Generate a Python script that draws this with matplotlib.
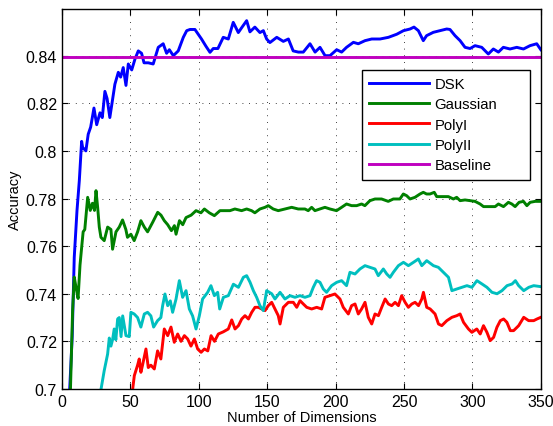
import matplotlib
matplotlib.use("Agg")
import matplotlib.pyplot as plt

plt.rcParams['font.family'] = ['Liberation Sans', 'DejaVu Sans']

# DSK
dsk_x = [5.5, 7.5, 9, 11, 12.7, 14.4, 15.1, 17.5, 19.2, 21, 23.4, 25.4, 27.8, 29.5, 31.4, 33, 35, 38.7, 41.2, 42.9,
         44.8, 46.8, 48.5, 51, 53.4, 55.8, 58.2, 60, 63.1, 66.7, 70.4, 74, 76.5, 78.5, 81.4, 85, 88.7, 91.2,
         93.6, 97.2, 99.6, 102, 105.2, 108.2, 110.6, 114, 117.9, 121.6, 125.2, 128.9, 131.3, 135, 137.4, 141,
         144.7, 147.2, 149.6, 152, 157, 161.8, 165.5, 169, 172.8, 176.4, 181.3, 185, 188.6, 192.3, 195.9,
         200.8, 204.4, 208, 213, 216.6, 221.5, 226.4, 232.5, 238.6, 244.7, 249.6, 254.4, 257.3, 260.5, 264.1,
         266.5, 271.4, 276.3, 281.2, 283.6, 287.3, 291, 294.6, 298.3, 301.9, 306.8, 311.6, 315.3, 319, 322.6,
         327.5, 332.4, 337.3, 342.1, 347, 350]
dsk_y = [0.698, 0.722, 0.7553, 0.7749, 0.7875, 0.804, 0.8015, 0.800, 0.807, 0.810, 0.818, 0.811, 0.816, 0.814, 0.825,
         0.822, 0.814, 0.828, 0.833, 0.831, 0.835, 0.8275, 0.8365, 0.834, 0.8386, 0.842, 0.841, 0.837, 0.837,
         0.8365, 0.8435, 0.845, 0.841, 0.8425, 0.840, 0.842, 0.8477, 0.8505, 0.851, 0.851, 0.849, 0.847,
         0.844, 0.8414, 0.843, 0.843, 0.8477, 0.847, 0.854, 0.8497, 0.8517, 0.8547, 0.850, 0.852, 0.8497,
         0.8505, 0.847, 0.8455, 0.8477, 0.846, 0.847, 0.842, 0.8415, 0.8415, 0.845, 0.8415, 0.8435, 0.840,
         0.840, 0.8425, 0.8415, 0.8435, 0.8456, 0.845, 0.8463, 0.847, 0.847, 0.8477, 0.849, 0.8505, 0.8512,
         0.852, 0.8505, 0.8463, 0.8484, 0.8498, 0.8505, 0.8512, 0.851, 0.8484, 0.8463, 0.8435, 0.843,
         0.8442, 0.8435, 0.8407, 0.8428, 0.8415, 0.8435, 0.8428, 0.8435, 0.8428, 0.8442, 0.845, 0.8425]

# Gaussian
gau_x = [6, 7.8, 9, 10.5, 11.8, 13.2, 14.5, 15.5, 16.7, 18.8, 20.7, 22.3, 23.8, 24.9, 26.1, 27.3, 28.5, 30.9,
         33.4, 35.8, 37, 39.5, 41.9, 44.3, 46.7, 47.9, 50.4, 52.8, 55.3, 57.7, 60.2, 62.6, 66.3, 70, 72.4,
         74.8, 77.3, 80, 82.2, 83.4, 85.9, 88.3, 90.7, 94.4, 98, 101.6, 104.1, 107.7, 111.4, 115.5, 119.1,
         122.8, 126.4, 131.3, 135, 138.6, 141, 144.7, 148.4, 150.8, 154.4, 158.1, 163, 167.9, 172.7, 177.6,
         180, 182.5, 184.9, 188.5, 192.2, 195.9, 200.7, 204.4, 208, 211.7, 215.4, 219, 221.4, 225.1, 228.8,
         233.6, 238.5, 242.2, 247, 249.5, 251.9, 254.4, 258, 261.7, 264.1, 266.5, 269, 272.1, 273.9, 277.5,
         282.4, 286.1, 288.5, 291, 294.6, 298.3, 301.9, 305.6, 308.1, 311.7, 316.6, 319, 322.7, 326.3, 328.8,
         331.2, 334.1, 337.3, 339.8, 342.2, 345.8, 349.5]
gau_y = [0.695, 0.733, 0.747, 0.742, 0.738, 0.752, 0.760, 0.766, 0.767, 0.7805, 0.775, 0.778, 0.775, 0.7833,
         0.7763, 0.768, 0.7637, 0.7623, 0.768, 0.767, 0.7587, 0.766, 0.768, 0.771, 0.767, 0.7637, 0.765,
         0.7623, 0.766, 0.7707, 0.768, 0.766, 0.770, 0.7742, 0.773, 0.7707, 0.769, 0.7665, 0.7686, 0.765,
         0.7707, 0.769, 0.772, 0.773, 0.7749, 0.774, 0.7756, 0.774, 0.7728, 0.7749, 0.7749, 0.7749, 0.7756,
         0.7749, 0.7756, 0.7749, 0.774, 0.7756, 0.7763, 0.777, 0.7756, 0.7749, 0.7756, 0.7763, 0.7756,
         0.7756, 0.7749, 0.7763, 0.7749, 0.7756, 0.7763, 0.7756, 0.7749, 0.7763, 0.7777, 0.777, 0.777,
         0.7777, 0.777, 0.7791, 0.7798, 0.7798, 0.7788, 0.7798, 0.7798, 0.7819, 0.7812, 0.7798, 0.7805,
         0.7819, 0.7826, 0.7819, 0.7819, 0.7826, 0.7808, 0.7808, 0.7808, 0.7798, 0.7805, 0.7791, 0.7794,
         0.7791, 0.7788, 0.7777, 0.7766, 0.7766, 0.7766, 0.7777, 0.7766, 0.7784, 0.7777, 0.7766, 0.7784,
         0.7788, 0.777, 0.7784, 0.7788, 0.7788]

# PolyI
p1_x = [51.5, 52.9, 55.3, 56.5, 57.7, 58.9, 61.4, 63.1, 65, 67.5, 69.9, 72.3, 74.8, 77.3, 79.7, 82.1, 84.6, 87,
        89.5, 91.9, 94.3, 96.8, 99.2, 101.7, 104.1, 106.6, 109, 111.5, 114.3, 117.9, 121.6, 124.1, 126.5,
        129, 131.4, 133.8, 136.3, 138.7, 141.1, 143.5, 146, 148.4, 150.8, 153.3, 155.7, 158.1, 159.4, 161.8,
        165.5, 169.1, 171.6, 174, 176.4, 178.9, 182.5, 186.2, 189.8, 192.2, 195.9, 199.5, 203.2, 205.6,
        209.3, 211.7, 214.2, 216.6, 219, 221.5, 223.9, 226.4, 228.8, 231.3, 233.7, 236.2, 238.6, 241, 243.5,
        245.9, 248.3, 250.8, 253.2, 255.7, 258.1, 260.6, 263, 264.2, 266.6, 269.1, 272.7, 275.2, 277.6,
        281.3, 285, 288.6, 291, 293.5, 297.1, 299.6, 303.2, 305.7, 308.1, 310.6, 313, 315.5, 317.9, 320.4,
        322.8, 325.2, 327.7, 330.1, 333.8, 337.5, 341.1, 344.8, 347.2, 350]
p1_y = [0.699, 0.7056, 0.710, 0.7126, 0.707, 0.710, 0.7168, 0.709, 0.710, 0.7084, 0.716, 0.7126, 0.7252,
        0.7224, 0.726, 0.7196, 0.7231, 0.720, 0.7224, 0.721, 0.718, 0.721, 0.7168, 0.7154, 0.7168, 0.716,
        0.7224, 0.720, 0.7231, 0.724, 0.7252, 0.729, 0.7252, 0.7266, 0.7294, 0.7308, 0.7294, 0.7322, 0.7343,
        0.7343, 0.7336, 0.7329, 0.735, 0.7364, 0.7336, 0.7308, 0.7273, 0.7343, 0.7364, 0.7364, 0.7343,
        0.7371, 0.7357, 0.7343, 0.7336, 0.7343, 0.7336, 0.7385, 0.7392, 0.7399, 0.7378, 0.7343, 0.7315,
        0.735, 0.7357, 0.7315, 0.7336, 0.7364, 0.7301, 0.7273, 0.7315, 0.7308, 0.7343, 0.7378, 0.7357,
        0.735, 0.7364, 0.735, 0.7392, 0.7364, 0.7343, 0.7357, 0.7364, 0.735, 0.7378, 0.7406, 0.7343, 0.7336,
        0.7315, 0.7273, 0.7266, 0.7287, 0.7301, 0.7308, 0.7315, 0.728, 0.7252, 0.7238, 0.7252, 0.7231,
        0.7266, 0.7238, 0.7203, 0.7217, 0.7259, 0.7287, 0.7294, 0.728, 0.7245, 0.7245, 0.7266, 0.7301,
        0.7287, 0.7287, 0.7294, 0.7301]

# PolyII
p2_x = [28.3, 30.9, 33.4, 34.6, 35.8, 37, 38.2, 39.4, 40.7, 41.9, 43.2, 44.4, 46.8, 49.2, 50.4, 52.8, 55.3,
        57.7, 60.2, 62.6, 65, 67, 69.9, 72.3, 73.6, 75.3, 77.3, 79.2, 80.9, 83.4, 85.8, 88.2, 90.7, 93.1,
        95.5, 98, 100.4, 102.8, 106.5, 108.9, 111.4, 113.8, 115.3, 118, 121.6, 125.3, 129, 132.6, 135, 137.5,
        139.9, 142.3, 144.7, 147.2, 149.6, 153.3, 155.7, 159.4, 163, 166.7, 170.3, 174, 177.6, 181.3, 183.7,
        186.1, 188.6, 191, 193.4, 197.1, 200.8, 204.4, 208, 210.5, 214.2, 217.8, 221.5, 225.1, 228.8, 231.2,
        234.9, 237.4, 239.8, 242.2, 245.9, 249.6, 253.2, 256.9, 260.5, 263, 266.6, 271.5, 275.1, 278.8,
        282.5, 285, 288.6, 292.3, 296, 299.6, 303.3, 307, 310.6, 314.3, 318, 321.6, 325.3, 329, 331.4, 333.8,
        337.5, 341.2, 344.8, 349.7]
p2_y = [0.699, 0.7077, 0.7147, 0.7214, 0.718, 0.7207, 0.7252, 0.7207, 0.7294, 0.730, 0.722, 0.7307, 0.7224,
        0.722, 0.7322, 0.7315, 0.730, 0.726, 0.7315, 0.7322, 0.7307, 0.726, 0.7287, 0.730, 0.735, 0.7399,
        0.735, 0.737, 0.7322, 0.7378, 0.7455, 0.7385, 0.7413, 0.7336, 0.7307, 0.7252, 0.7307, 0.7378,
        0.7406, 0.7434, 0.7392, 0.7406, 0.7336, 0.7385, 0.7392, 0.744, 0.7427, 0.7469, 0.7476, 0.7448,
        0.7413, 0.7385, 0.735, 0.7329, 0.7413, 0.740, 0.7378, 0.7406, 0.7378, 0.7392, 0.7385, 0.7392, 0.7385,
        0.7392, 0.7427, 0.7455, 0.7448, 0.742, 0.7406, 0.7434, 0.7448, 0.7455, 0.7434, 0.749, 0.7483, 0.7504,
        0.7518, 0.7511, 0.7504, 0.7476, 0.7504, 0.7483, 0.7469, 0.749, 0.7518, 0.7532, 0.7518, 0.7532,
        0.7546, 0.7518, 0.7539, 0.7518, 0.7511, 0.749, 0.7469, 0.7413, 0.742, 0.7427, 0.7434, 0.7427, 0.7455,
        0.7441, 0.7427, 0.7406, 0.740, 0.7413, 0.7434, 0.7441, 0.7455, 0.7434, 0.7413, 0.7427, 0.7434, 0.743]

baseline = 0.8393

xticks = [0, 50, 100, 150, 200, 250, 300, 350]
yticks = [0.70, 0.72, 0.74, 0.76, 0.78, 0.80, 0.82, 0.84]
ytick_labels = ['0.7', '0.72', '0.74', '0.76', '0.78', '0.8', '0.82', '0.84']

fig = plt.figure(figsize=(5.53, 4.27), dpi=100)
ax = fig.add_axes([0.112, 0.0867, 0.866, 0.891])

ax.plot(dsk_x, dsk_y, color=(0, 0, 1), lw=2.1, label='DSK')
ax.plot(gau_x, gau_y, color=(0, 0.5, 0), lw=2.1, label='Gaussian')
ax.plot(p1_x, p1_y, color=(1, 0, 0), lw=2.1, label='PolyI')
ax.plot(p2_x, p2_y, color=(0, 0.75, 0.75), lw=2.1, label='PolyII')
ax.axhline(baseline, color=(0.75, 0, 0.75), lw=2.1, label='Baseline')

ax.set_xlim(0, 350)
ax.set_ylim(0.7, 0.8598)
ax.set_xticks(xticks)
ax.set_yticks(yticks)
ax.set_yticklabels(ytick_labels)
ax.tick_params(direction='in', top=True, right=True, labelsize=11.5, length=4, width=0.8)
ax.grid(True, color='black', linestyle=(0, (1, 7)), linewidth=0.6)
for s in ax.spines.values():
    s.set_linewidth(1)

ax.set_xlabel('Number of Dimensions', fontsize=10.5, labelpad=1)
ax.set_ylabel('Accuracy', fontsize=10.5, labelpad=3)

leg = ax.legend(loc='upper left', bbox_to_anchor=(0.626, 0.554, 0.351, 0.285), mode='expand',
                fontsize=10.7, handlelength=4.0, handletextpad=0.4,
                fancybox=False, framealpha=1, edgecolor='black', borderpad=0.5, labelspacing=0.42,
                borderaxespad=0)
leg.get_frame().set_linewidth(1)

fig.savefig('out.png', dpi=100)
